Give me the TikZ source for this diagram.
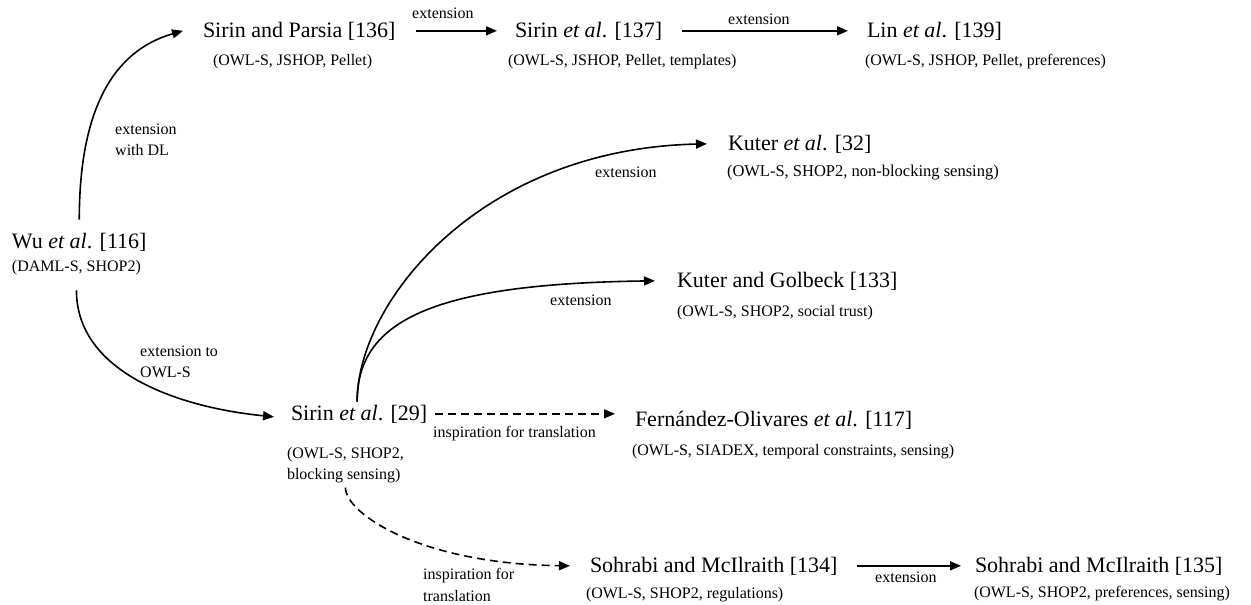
\documentclass[tikz,border=0pt]{standalone}
\usepackage{fontspec}
\setmainfont{Liberation Serif}
\usetikzlibrary{arrows.meta}
\tikzset{
  paper/.style={anchor=base west, inner sep=0pt, outer sep=0pt, font=\fontsize{22}{26}\selectfont},
  tools/.style={anchor=base west, inner sep=0pt, outer sep=0pt, font=\fontsize{16}{21}\selectfont, align=left},
  toolsblock/.style={anchor=north west, inner sep=0pt, outer sep=0pt, font=\fontsize{16}{21}\selectfont, align=left},
  rel/.style={anchor=base west, inner sep=0pt, font=\fontsize{16}{21}\selectfont},
  relblock/.style={anchor=north west, inner sep=0pt, font=\fontsize{16}{21}\selectfont, align=left},
  link/.style={line width=1.6pt, -{Triangle[length=11pt,width=9pt]}},
  dlink/.style={link, dash pattern=on 8pt off 5pt},
}
\begin{document}
\begin{tikzpicture}[x=1pt, y=-1pt]
\fill[white] (0,0) rectangle (1251,605);
\useasboundingbox (0,0) rectangle (1251,605);

% papers and their tool sets
\node[paper] (wu) at (12,248) {Wu \textit{et al}. [116]};
\node[tools] (wus) at (12,271) {(DAML-S, SHOP2)};

\node[paper] (sp) at (203,37) {Sirin and Parsia [136]};
\node[tools] (sps) at (213,65) {(OWL-S, JSHOP, Pellet)};

\node[paper] (s137) at (515,37) {Sirin \textit{et al}. [137]};
\node[tools] (s137s) at (508,65) {(OWL-S, JSHOP, Pellet, templates)};

\node[paper] (lin) at (867,37) {Lin \textit{et al}. [139]};
\node[tools] (lins) at (865,65) {(OWL-S, JSHOP, Pellet, preferences)};

\node[paper] (kut) at (728,150) {Kuter \textit{et al}. [32]};
\node[tools, font=\fontsize{16.5}{21}\selectfont] (kuts) at (727,176) {(OWL-S, SHOP2, non-blocking sensing)};

\node[paper] (kg) at (677,287) {Kuter and Golbeck [133]};
\node[tools] (kgs) at (677,316) {(OWL-S, SHOP2, social trust)};

\node[paper] (s29) at (291,420) {Sirin \textit{et al}. [29]};
\node[toolsblock] (s29s) at (287,447) {(OWL-S, SHOP2,\\blocking sensing)};

\node[paper] (fo) at (635,426) {Fernández-Olivares \textit{et al}. [117]};
\node[tools] (fos) at (632,455) {(OWL-S, SIADEX, temporal constraints, sensing)};

\node[paper] (sm134) at (590,572) {Sohrabi and McIlraith [134]};
\node[tools] (sm134s) at (586,598) {(OWL-S, SHOP2, regulations)};

\node[paper] (sm135) at (975,572) {Sohrabi and McIlraith [135]};
\node[tools] (sm135s) at (974,597) {(OWL-S, SHOP2, preferences, sensing)};

% relation labels
\node[relblock] (l1) at (115,124) {extension\\with DL};
\node[rel] (l2) at (412,19) {extension};
\node[rel] (l3) at (728,24) {extension};
\node[rel] (l4) at (595,177) {extension};
\node[rel] (l5) at (550,305) {extension};
\node[relblock] (l6) at (140,346) {extension to\\OWL-S};
\node[rel] (l7) at (433,437) {inspiration for translation};
\node[relblock, font=\fontsize{16}{22}\selectfont] (l8) at (423,568) {inspiration for\\translation};
\node[rel] (l9) at (875,582) {extension};

% relations
\draw[link] ([yshift=13pt]wu.north) .. controls +(0,-110) and +(-70,20) .. ([xshift=-20pt]sp.west);
\draw[link] ([yshift=-16pt]wus.south) .. controls +(0,80) and +(-100,-10) .. ([xshift=-17pt,yshift=-3pt]s29.west);
\draw[link, shorten <=21pt, shorten >=18pt] (sp.east) -- (s137.west);
\draw[link, shorten <=20pt, shorten >=19pt] (s137.east) -- (lin.west);
\draw[link] ([xshift=-2pt,yshift=3pt]s29.north) .. controls +(0,-100) and +(-227,5) .. ([xshift=-21pt]kut.west);
\draw[link] ([xshift=-2pt,yshift=3pt]s29.north) .. controls +(0,-80) and +(-225,3) .. ([xshift=-22pt]kg.west);
\draw[dlink, shorten <=8pt, shorten >=20pt] (s29.east) -- (s29.east -| fo.west);
\draw[dlink] ([yshift=-5pt]s29s.south) .. controls +(0,26) and +(-150,-2) .. ([xshift=-20pt]sm134.west);
\draw[link, shorten <=20pt, shorten >=14pt] (sm134.east) -- (sm135.west);
\end{tikzpicture}
\end{document}
